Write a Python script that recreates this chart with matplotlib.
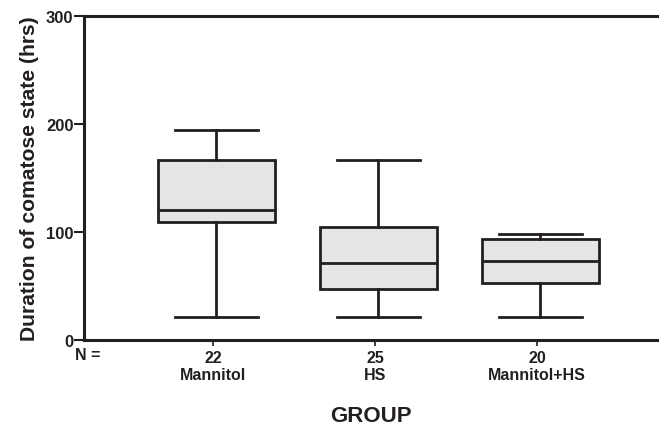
import matplotlib
matplotlib.use("Agg")
import matplotlib.pyplot as plt

groups = ["Mannitol", "HS", "Mannitol+HS"]
counts = [22, 25, 20]
whis_low = [21, 21, 21]
q1 = [109.5, 47, 53]
medians = [120.5, 71, 73]
q3 = [166.5, 104.5, 93.5]
whis_high = [194, 166.5, 98.5]
yticks = [0, 100, 200, 300]

FONT = "Liberation Sans"
INK = "#231f20"
FILL = "#e4e5e7"

fig = plt.figure(figsize=(6.59, 4.27), dpi=100)
W, H = 659, 427
left, right, top, bottom = 84, 668, 17, 341
ax = fig.add_axes([left / W, 1 - bottom / H, (right - left) / W, (bottom - top) / H])

stats = []
for i, g in enumerate(groups):
    stats.append(dict(label=g, whislo=whis_low[i], q1=q1[i], med=medians[i],
                      q3=q3[i], whishi=whis_high[i], fliers=[]))

ticks = [1, 2, 3]
pos = [t + 0.02 for t in ticks]
lw = 2.0
ax.bxp(stats, positions=pos, widths=0.72, capwidths=0.51, patch_artist=True,
       showfliers=False,
       boxprops=dict(facecolor=FILL, edgecolor=INK, linewidth=lw),
       medianprops=dict(color=INK, linewidth=lw),
       whiskerprops=dict(color=INK, linewidth=lw),
       capprops=dict(color=INK, linewidth=lw))

ax.set_ylim(0, 300)
ax.set_xlim(1 - (213 - left) / 162, 3 + (right - 537) / 162)
ax.set_yticks(yticks)
ax.set_yticklabels([str(v) for v in yticks], fontfamily=FONT, fontweight="bold",
                   fontsize=12, color=INK)
ax.set_xticks(ticks)
ax.set_xticklabels([f"{n}\n{g}" for n, g in zip(counts, groups)], fontfamily=FONT,
                   fontweight="bold", fontsize=11.5, color=INK, linespacing=1.2)
ax.tick_params(axis="y", length=7, width=1.5, pad=0.5, color=INK)
ax.tick_params(axis="x", length=4, width=1.2, pad=3, color=INK)
for s in ax.spines.values():
    s.set_linewidth(2.2)
    s.set_color(INK)

ax.set_ylabel("Duration of comatose state (hrs)", fontfamily=FONT, fontweight="bold",
              fontsize=15.2, color=INK, labelpad=5)
fig.text(88 / W, 1 - 356 / H, "N =", fontfamily=FONT, fontweight="bold", fontsize=11.5,
         color=INK, ha="center", va="center")
fig.text(371 / W, 1 - 417 / H, "GROUP", fontfamily=FONT, fontweight="bold", fontsize=16,
         color=INK, ha="center", va="center")

fig.savefig("out.png", dpi=100)
